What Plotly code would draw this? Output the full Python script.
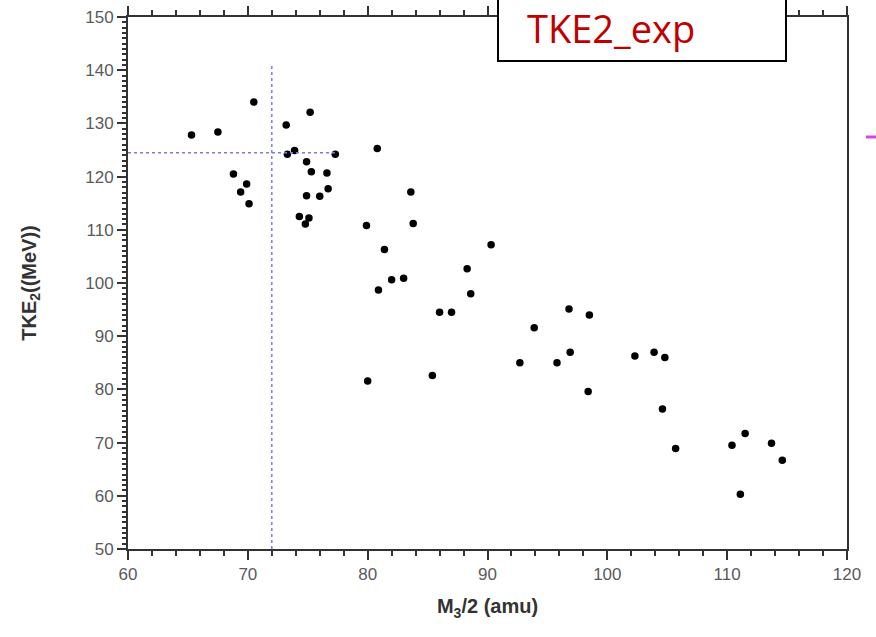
import plotly.graph_objects as go

# data
mass = [65.3, 67.5, 70.5, 68.8, 69.9, 69.4, 70.1, 73.2, 73.3, 73.9, 75.2, 74.9, 75.3, 76.6,
        76.7, 76.0, 74.9, 74.3, 75.1, 74.8, 77.3, 80.8, 79.9, 81.4, 83.6, 83.8, 90.3, 82.0,
        83.0, 80.9, 88.3, 88.6, 86.0, 87.0, 96.8, 98.5, 93.9, 96.9, 92.7, 95.8, 102.3, 103.9,
        104.8, 80.0, 85.4, 98.4, 104.6, 105.7, 111.5, 110.4, 113.7, 114.6, 111.1]
tke = [127.8, 128.4, 134.0, 120.5, 118.6, 117.1, 114.9, 129.7, 124.2, 124.9, 132.1, 122.8, 120.9, 120.7,
       117.7, 116.3, 116.4, 112.5, 112.2, 111.1, 124.2, 125.3, 110.8, 106.3, 117.1, 111.2, 107.2, 100.6,
       100.9, 98.7, 102.7, 98.0, 94.5, 94.5, 95.1, 94.0, 91.6, 87.0, 85.0, 85.0, 86.3, 87.0,
       86.0, 81.6, 82.6, 79.6, 76.3, 68.9, 71.7, 69.5, 69.9, 66.7, 60.3]

ref_x = 72.0      # vertical guide
ref_y = 124.5     # horizontal guide
ref_x_end = 77.5
ref_y_end = 141.0

x_ticks = [60, 70, 80, 90, 100, 110, 120]
y_ticks = [50, 60, 70, 80, 90, 100, 110, 120, 130, 140, 150]

fig = go.Figure()
fig.add_trace(go.Scatter(x=mass, y=tke, mode="markers",
                         marker=dict(color="black", size=7.5), showlegend=False))

guide = dict(color="#7b7be8", width=1.5, dash="dot")
fig.add_shape(type="line", x0=60, x1=ref_x_end, y0=ref_y, y1=ref_y, line=guide)
fig.add_shape(type="line", x0=ref_x, x1=ref_x, y0=50, y1=ref_y_end, line=guide)

# label box
fig.add_shape(type="rect", xref="paper", yref="paper",
              x0=(498 - 128) / 719, x1=(786 - 128) / 719,
              y0=(549 - 61) / 532, y1=(549 + 10) / 532,
              line=dict(color="black", width=2), fillcolor="white", layer="above")
fig.add_annotation(xref="paper", yref="paper", x=(611 - 128) / 719, y=(549 - 28) / 532,
                   xanchor="center", yanchor="middle",
                   text="TKE2_exp", showarrow=False,
                   font=dict(family="Open Sans, Liberation Sans, sans-serif", size=38, color="#c00000"))
# small magenta mark at right edge
fig.add_shape(type="line", xref="paper", yref="paper",
              x0=(866 - 128) / 719, x1=(878 - 128) / 719,
              y0=(549 - 137) / 532, y1=(549 - 137) / 532,
              line=dict(color="#e040e0", width=3))

title_font = dict(family="Liberation Sans, Arial, sans-serif", size=20, color="#333333")
axis_common = dict(showgrid=False, zeroline=False, showline=True, linecolor="#333333",
                   linewidth=2, ticks="outside", tickcolor="#333333", tickwidth=1.5,
                   automargin=False,
                   tickfont=dict(family="Liberation Sans, Arial, sans-serif", size=17, color="#5a5a5a"))

fig.update_xaxes(range=[60, 120], tickvals=x_ticks, ticklen=9, mirror="ticks",
                 minor=dict(dtick=2, ticks="outside", ticklen=5, tickcolor="#333333"),
                 title=dict(text="<b>M<sub>3</sub>/2 (amu)</b>", standoff=16, font=title_font),
                 **axis_common)
fig.update_yaxes(range=[50, 150], tickvals=y_ticks, ticklen=9, mirror=True,
                 minor=dict(dtick=1, ticks="outside", ticklen=4, tickcolor="#333333"),
                 title=dict(text="<b>TKE<sub>2</sub>((MeV))</b>", standoff=43, font=title_font),
                 **axis_common)

fig.update_layout(width=876, height=637, margin=dict(l=128, r=29, t=17, b=88),
                  plot_bgcolor="white", paper_bgcolor="white")

fig.write_html("out.html")
